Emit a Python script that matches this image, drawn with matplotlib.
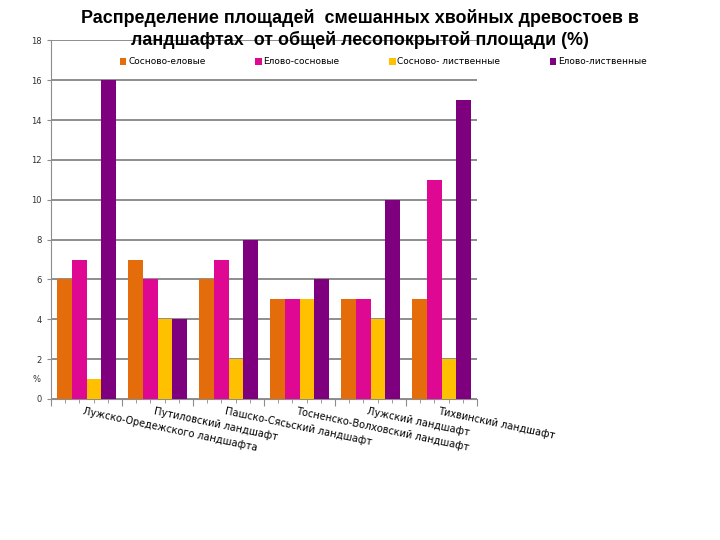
import matplotlib.pyplot as plt
import numpy as np

categories = ['Лужско-Оредежского ландшафта', 'Путиловский ландшафт',
              'Пашско-Сясьский ландшафт', 'Тосненско-Волховский ландшафт',
              'Лужский ландшафт', 'Тихвинский ландшафт']
series_names = ['Сосново-еловые', 'Елово-сосновые', 'Сосново- лиственные', 'Елово-лиственные']
sosn_el = [6, 7, 6, 5, 5, 5]
el_sosn = [7, 6, 7, 5, 5, 11]
sosn_list = [1, 4, 2, 5, 4, 2]
el_list = [16, 4, 8, 6, 10, 15]
colors = ['#E46C0A', '#DE0892', '#FFC000', '#7F007F']

fig = plt.figure(figsize=(7.2, 5.4), dpi=100)
ax = fig.add_axes([51 / 720, 1 - 399 / 540, 426 / 720, 358.7 / 540])

x = np.arange(len(categories))
w = 0.205
for i, (vals, name) in enumerate(zip([sosn_el, el_sosn, sosn_list, el_list], series_names)):
    ax.bar(x + (i - 1.5) * w, vals, width=w, color=colors[i], label=name, zorder=3)

ax.set_xlim(-0.5, len(categories) - 0.5)
ax.set_ylim(0, 18)
ax.set_yticks(range(0, 19, 2))
ax.yaxis.grid(True, color='#858585', linewidth=1.3, zorder=0)
for s in ['top', 'right']:
    ax.spines[s].set_visible(False)
ax.spines['left'].set_color('#8c8c8c')
ax.spines['bottom'].set_color('#8c8c8c')
ax.tick_params(axis='y', labelsize=6, colors='#8c8c8c', labelcolor='#333333', length=3)

# тики по оси X: длинные на границах, короткие под столбцами
ax.set_xticks(np.arange(-0.5, len(categories), 1.0))
ax.set_xticklabels([])
ax.set_xticks(np.arange(-0.5, len(categories) - 0.4, 0.2), minor=True)
ax.tick_params(axis='x', which='major', length=5, colors='#8c8c8c')
ax.tick_params(axis='x', which='minor', length=3, colors='#8c8c8c')

for i, lab in enumerate(categories):
    ax.text(i - 0.03, -0.35, lab, rotation=-12, rotation_mode='anchor',
            ha='left', va='top', fontsize=7.1, family='DejaVu Sans')

ax.text(-0.025, 1.0, '%', transform=ax.get_yaxis_transform(), fontsize=6,
        ha='right', va='center', color='#333333')

fig.text(0.5, 1 - 29 / 540, 'Распределение площадей  смешанных хвойных древостоев в\nландшафтах  от общей лесопокрытой площади (%)',
         ha='center', va='center', fontsize=12.9, fontweight='bold',
         family='Liberation Sans', linespacing=1.3)

leg = ax.legend(loc='center', ncol=4, frameon=False,
                fontsize=6.5, handlelength=0.7, handleheight=0.7, handletextpad=0.2,
                columnspacing=5.5)
leg.set_bbox_to_anchor((0.5 * (112 + 655) / 720, 1 - 62 / 540), transform=fig.transFigure)

plt.savefig('out.png', dpi=100)
